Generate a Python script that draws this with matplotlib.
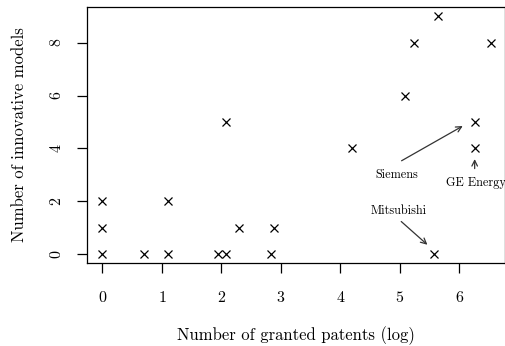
import numpy as np
import matplotlib
matplotlib.use("Agg")
import matplotlib.pyplot as plt

plt.rcParams["font.family"] = "cmr10"
plt.rcParams["axes.formatter.use_mathtext"] = True

# Daten: log(Patente) und Anzahl innovativer Modelle
log_patents = [0, 0, 0, 0.69, 1.10, 1.10, 1.95, 2.08, 2.08, 2.30,
               2.83, 2.89, 4.19, 5.09, 5.24, 5.65, 5.58, 6.26, 6.26, 6.53]
models = [0, 1, 2, 0, 0, 2, 0, 0, 5, 1,
          0, 1, 4, 6, 8, 9, 0, 5, 4, 8]

# Beschriftungen: Name, Textposition, Pfeilspitze, Pfeilanfang
labels = ["Siemens", "GE Energy", "Mitsubishi"]
text_pos = [(4.95, 2.98), (6.28, 2.68), (4.98, 1.63)]
arrow_tip = [(6.10, 4.90), (6.26, 3.70), (5.50, 0.28)]
arrow_start = [(4.99, 3.48), (6.26, 3.13), (4.99, 1.30)]

fig = plt.figure(figsize=(5.06, 3.46), dpi=100)
ax = fig.add_axes([0.172, 0.24, 0.826, 0.74])

ax.plot(log_patents, models, linestyle="none", marker="x", color="black",
        markersize=5.8, markeredgewidth=0.9)

for name, tp, tip, st in zip(labels, text_pos, arrow_tip, arrow_start):
    ax.annotate("", xy=tip, xytext=st,
                arrowprops=dict(arrowstyle="->", color="#333333", lw=0.9))
    ax.text(tp[0], tp[1], name, fontsize=8.8, ha="center", va="center")

ax.set_xlim(-0.26, 6.77)
ax.set_ylim(-0.34, 9.36)
ax.set_xticks(range(0, 7))
ax.set_yticks([0, 2, 4, 6, 8])
for lab in ax.get_yticklabels():
    lab.set_rotation(90)
    lab.set_va("center")
ax.tick_params(direction="out", length=7.5, width=0.9, labelsize=11.5)
ax.tick_params(axis="x", pad=12)
ax.tick_params(axis="y", pad=9)

for sp in ax.spines.values():
    sp.set_linewidth(0.9)

ax.set_xlabel("Number of granted patents (log)", fontsize=12, labelpad=15)
ax.set_ylabel("Number of innovative models", fontsize=12, labelpad=16)

fig.savefig("out.png", dpi=100)
